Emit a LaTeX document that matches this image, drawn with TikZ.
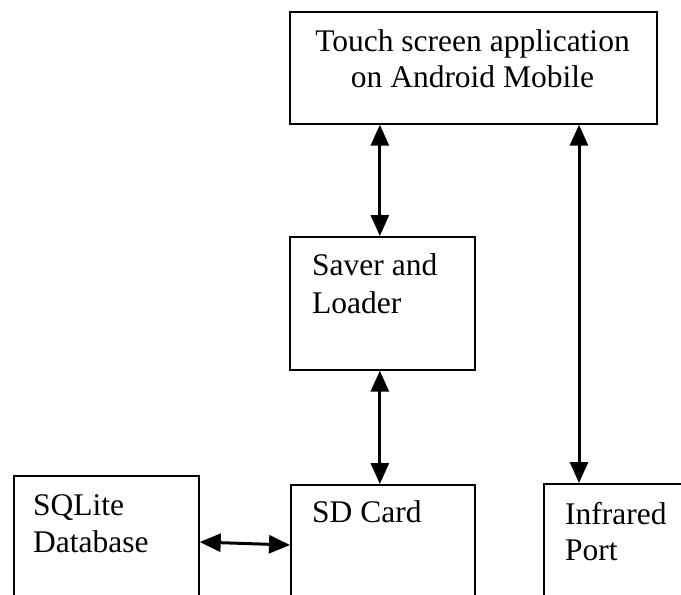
\documentclass[tikz,border=0pt]{standalone}
\usepackage{fontspec}
\setmainfont{Liberation Serif}
\usetikzlibrary{arrows.meta}
\begin{document}
\begin{tikzpicture}[x=1pt,y=-1pt,
  box/.style={draw=black,line width=1.7pt,rectangle,anchor=north west,inner sep=0pt,fill=white},
  lbl/.style={inner sep=0pt,font=\fontsize{31.5}{36}\selectfont},
  link/.style={line width=3pt,{Triangle[length=21pt 0 0,width=18pt 0 0]}-{Triangle[length=21pt 0 0,width=18pt 0 0]}}]
\useasboundingbox (0,0) rectangle (681,595);
\clip (0,0) rectangle (681,595);
\fill[white] (0,0) rectangle (681,595);
% blocks
\node[box,minimum width=367pt,minimum height=112pt] (app) at (289,11) {};
\node[box,minimum width=185pt,minimum height=133pt] (sl) at (289,236) {};
\node[box,minimum width=185pt,minimum height=150pt] (db) at (13,475) {};
\node[box,minimum width=184pt,minimum height=140pt] (sd) at (290,484) {};
\node[box,minimum width=170pt,minimum height=140pt] (ir) at (543,483) {};
% labels
\node[lbl,anchor=base] (appA) at (472.5,51) {Touch screen application};
\node[lbl,anchor=base] (appB) at (472.5,87) {on Android Mobile};
\node[lbl,anchor=base west] (slA) at (312,275) {Saver and};
\node[lbl,anchor=base west] (slB) at (312,313) {Loader};
\node[lbl,anchor=base west] (dbA) at (33,515) {SQLite};
\node[lbl,anchor=base west] (dbB) at (33,552) {Database};
\node[lbl,anchor=base west] (sdA) at (312,522) {SD Card};
\node[lbl,anchor=base west] (irA) at (565,524) {Infrared};
\node[lbl,anchor=base west] (irB) at (565,560) {Port};
% connectors
\coordinate (slTop) at ([xshift=-2.5pt]sl.north);
\coordinate (slBot) at ([xshift=-2.5pt]sl.south);
\coordinate (irTop) at ([xshift=36pt]ir.north west);
\draw[link] (app.south -| slTop) -- (slTop);
\draw[link] (slBot) -- (sd.north -| slBot);
\draw[link] (app.south -| irTop) -- (irTop);
\draw[link] ([yshift=-67pt]db.north east) -- ([yshift=-61pt]sd.north west);
\end{tikzpicture}
\end{document}
